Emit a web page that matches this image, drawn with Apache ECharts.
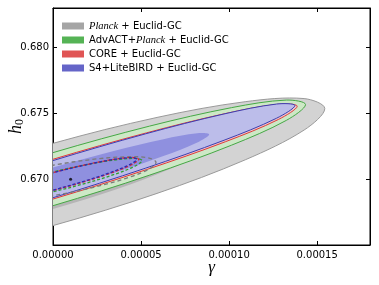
<!DOCTYPE html>
<html><head><meta charset="utf-8">
<script src="https://cdn.jsdelivr.net/npm/echarts@6/dist/echarts.min.js"></script>
<style>html,body{margin:0;padding:0;background:#fff}#c{width:379px;height:285px}</style>
</head><body><div id="c"></div>
<script>
// legend
const legendNames = ['Planck + Euclid-GC', 'AdvACT+Planck + Euclid-GC', 'CORE + Euclid-GC', 'S4+LiteBIRD + Euclid-GC'];
const legendColors = ['#a5a5a5', '#55b355', '#e05555', '#6565c8'];

// contour outlines: [gamma, h0]
const planck95 = [[-1.0913e-4,0.663310],[-5.907e-5,0.664505],[0,0.666474],[5.907e-5,0.668919],[1.0913e-4,0.671468],[1.4259e-4,0.673731],[1.5434e-4,0.675365],[1.4259e-4,0.676121],[1.0913e-4,0.675884],[5.907e-5,0.674689],[0,0.672720],[-5.907e-5,0.670275],[-1.0913e-4,0.667726]];
const planck68 = [[-6.671e-5,0.665801],[-3.610e-5,0.666530],[0,0.667733],[3.610e-5,0.669228],[6.671e-5,0.670787],[8.716e-5,0.672173],[9.434e-5,0.673173],[8.716e-5,0.673637],[6.671e-5,0.673493],[3.610e-5,0.672764],[0,0.671561],[-3.610e-5,0.670066],[-6.671e-5,0.668507]];
const advact95 = [[-1.0140e-4,0.664567],[-5.488e-5,0.665969],[0,0.667985],[5.488e-5,0.670307],[1.0140e-4,0.672583],[1.3249e-4,0.674466],[1.4340e-4,0.675668],[1.3249e-4,0.676008],[1.0140e-4,0.675433],[5.488e-5,0.674031],[0,0.672015],[-5.488e-5,0.669693],[-1.0140e-4,0.667417]];
const core95 = [[-9.806e-5,0.665013],[-5.307e-5,0.666483],[0,0.668489],[5.307e-5,0.670725],[9.806e-5,0.672851],[1.2813e-4,0.674542],[1.3868e-4,0.675542],[1.2813e-4,0.675698],[9.806e-5,0.674987],[5.307e-5,0.673517],[0,0.671511],[-5.307e-5,0.669275],[-9.806e-5,0.667149]];
const s4_95 = [[-9.713e-5,0.665048],[-5.257e-5,0.666556],[0,0.668589],[5.257e-5,0.670836],[9.713e-5,0.672956],[1.2691e-4,0.674626],[1.3736e-4,0.675592],[1.2691e-4,0.675706],[9.713e-5,0.674952],[5.257e-5,0.673444],[0,0.671411],[-5.257e-5,0.669164],[-9.713e-5,0.667044]];
const s4_68 = [[-6.271e-5,0.666911],[-3.394e-5,0.667826],[0,0.669068],[3.394e-5,0.670448],[6.271e-5,0.671757],[8.193e-5,0.672793],[8.868e-5,0.673401],[8.193e-5,0.673487],[6.271e-5,0.673039],[3.394e-5,0.672124],[0,0.670882],[-3.394e-5,0.669502],[-6.271e-5,0.668193]];
const planckDashed = [[-4.136e-5,0.668100],[-2.238e-5,0.668298],[0,0.668740],[2.238e-5,0.669358],[4.136e-5,0.670058],[5.404e-5,0.670735],[5.849e-5,0.671284],[5.404e-5,0.671623],[4.136e-5,0.671698],[2.238e-5,0.671500],[0,0.671058],[-2.238e-5,0.670440],[-4.136e-5,0.669740]];
const advactDashed = [[-3.576e-5,0.668123],[-1.935e-5,0.668483],[0,0.669042],[1.935e-5,0.669717],[3.576e-5,0.670403],[4.672e-5,0.670998],[5.057e-5,0.671410],[4.672e-5,0.671576],[3.576e-5,0.671473],[1.935e-5,0.671113],[0,0.670554],[-1.935e-5,0.669879],[-3.576e-5,0.669193]];
const coreDashed = [[-3.442e-5,0.668149],[-1.863e-5,0.668550],[0,0.669144],[1.863e-5,0.669842],[3.442e-5,0.670537],[4.498e-5,0.671124],[4.868e-5,0.671512],[4.498e-5,0.671644],[3.442e-5,0.671499],[1.863e-5,0.671098],[0,0.670504],[-1.863e-5,0.669806],[-3.442e-5,0.669111]];
const s4Dashed = [[-3.362e-5,0.668167],[-1.820e-5,0.668573],[0,0.669169],[1.820e-5,0.669865],[3.362e-5,0.670555],[4.393e-5,0.671133],[4.755e-5,0.671512],[4.393e-5,0.671635],[3.362e-5,0.671481],[1.820e-5,0.671075],[0,0.670479],[-1.820e-5,0.669783],[-3.362e-5,0.669093]];
const fiducial = [[1.0e-5, 0.670]];

const layers = [
  {name: legendNames[0], pts: planck95, fill: '#d3d3d3', stroke: '#9a9a9a', lw: 1, color: legendColors[0]},
  {name: 'p68', pts: planck68, fill: '#b5b5b5', stroke: null},
  {name: legendNames[1], pts: advact95, fill: '#cde8c6', stroke: '#45a845', lw: 1, color: legendColors[1]},
  {name: legendNames[2], pts: core95, fill: '#ecc6cc', stroke: '#e03a3a', lw: 1, color: legendColors[2]},
  {name: legendNames[3], pts: s4_95, fill: '#bcbdea', stroke: '#3c3cb0', lw: 1, color: legendColors[3]},
  {name: 's68', pts: s4_68, fill: '#8f90df', stroke: null},
  {name: 'pd', pts: planckDashed, fill: null, stroke: '#7a7a7a', lw: 1.3, dash: [4, 3]},
  {name: 'ad', pts: advactDashed, fill: null, stroke: '#2f9e2f', lw: 1.3, dash: [3, 2]},
  {name: 'cd', pts: coreDashed, fill: null, stroke: '#e02525', lw: 1.3, dash: [3, 2], off: 2},
  {name: 'bd', pts: s4Dashed, fill: null, stroke: '#2a2ab8', lw: 1.3, dash: [3, 2], off: 4}
];

const chart = echarts.init(document.getElementById('c'), null, {renderer: 'canvas'});

const series = layers.map(L => ({
  type: 'custom',
  name: L.name,
  clip: true,
  xAxisIndex: 0, yAxisIndex: 0,
  itemStyle: {color: L.color || L.fill || L.stroke},
  data: [[0, 0.67]],
  silent: true,
  renderItem: (params, api) => {
    const pts = L.pts.map(p => api.coord(p));
    const cs = params.coordSys;
    return {
      type: 'polygon',
      shape: {points: pts, smooth: 0.34},
      style: {
        fill: L.fill || 'none',
        stroke: L.stroke || 'none',
        lineWidth: L.stroke ? L.lw : 0,
        lineDash: L.dash || null,
        lineDashOffset: L.off || 0
      },
      clipPath: {type: 'rect', shape: {x: cs.x, y: cs.y, width: cs.width, height: cs.height}}
    };
  }
}));
series.push({
  type: 'scatter', name: 'fid', data: fiducial, symbolSize: 3,
  itemStyle: {color: '#000'}, silent: true, z: 5
});
// empty series so the mirrored top/right axes are drawn
series.push({type: 'scatter', name: 'mirror', xAxisIndex: 1, yAxisIndex: 1, data: [], silent: true});

const axisCommon = {
  axisLine: {show: true, onZero: false, lineStyle: {color: '#000', width: 1}},
  axisTick: {show: true, inside: true, length: 4, lineStyle: {color: '#000'}},
  splitLine: {show: false}
};
const font = {fontFamily: 'DejaVu Sans', fontSize: 10, color: '#000'};

chart.setOption({
  animation: false,
  backgroundColor: '#fff',
  grid: {left: 53, right: 9, top: 8, bottom: 40, containLabel: false, outerBoundsMode: 'none',
    show: true, borderColor: '#000', borderWidth: 1, backgroundColor: 'transparent'},
  legend: {
    orient: 'vertical', left: 57, top: 15, itemWidth: 22, itemHeight: 7, itemGap: 2,
    selectedMode: false,
    data: legendNames.map((n, i) => ({name: n, icon: 'rect', itemStyle: {color: legendColors[i]}})),
    formatter: n => n.replace('Planck', '{it|Planck}'),
    textStyle: Object.assign({lineHeight: 12, rich: {it: {fontFamily: 'Liberation Serif', fontStyle: 'italic', fontSize: 10.5, lineHeight: 12, color: '#000'}}}, font)
  },
  xAxis: [
    Object.assign({type: 'value', min: 0, max: 0.00018, interval: 0.00005, position: 'bottom',
      name: 'γ', nameLocation: 'middle', nameGap: 14, nameMoveOverlap: false,
      nameTextStyle: {fontFamily: 'Liberation Serif', fontStyle: 'italic', fontSize: 17, color: '#000'},
      axisLabel: Object.assign({margin: 5, showMaxLabel: false, formatter: v => v.toFixed(5)}, font)}, axisCommon),
    Object.assign({type: 'value', min: 0, max: 0.00018, interval: 0.00005, position: 'top',
      axisLabel: {show: false}}, axisCommon)
  ],
  yAxis: [
    Object.assign({type: 'value', min: 0.665, max: 0.683, interval: 0.005, position: 'left',
      name: '{i|h}{s|0}', nameLocation: 'middle', nameGap: 27, nameRotate: 90, nameMoveOverlap: false,
      nameTextStyle: {rich: {
        i: {fontFamily: 'Liberation Serif', fontStyle: 'italic', fontSize: 18, lineHeight: 20, color: '#000'},
        s: {fontFamily: 'Liberation Serif', fontSize: 12, lineHeight: 20, verticalAlign: 'bottom', color: '#000'}
      }},
      axisLabel: Object.assign({margin: 4, showMinLabel: false, showMaxLabel: false, formatter: v => v.toFixed(3)}, font)}, axisCommon),
    Object.assign({type: 'value', min: 0.665, max: 0.683, interval: 0.005, position: 'right',
      axisLabel: {show: false}}, axisCommon)
  ],
  series: series
});
</script></body></html>
